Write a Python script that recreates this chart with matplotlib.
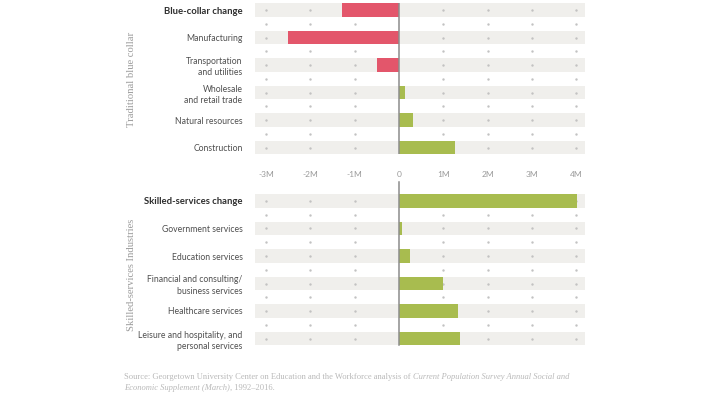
import matplotlib
matplotlib.use("Agg")
import matplotlib.pyplot as plt
import numpy as np

# values in millions of jobs, change 1991-2016
blue_labels = ["Blue-collar change", "Manufacturing", "Transportation\nand utilities",
               "Wholesale\nand retail trade", "Natural resources", "Construction"]
blue_values = [-1.28, -2.50, -0.50, 0.14, 0.31, 1.26]

skilled_labels = ["Skilled-services change", "Government services", "Education services",
                  "Financial and consulting/\nbusiness services", "Healthcare services",
                  "Leisure and hospitality, and\npersonal services"]
skilled_values = [4.03, 0.07, 0.26, 0.99, 1.34, 1.38]

tick_values = [-3, -2, -1, 0, 1, 2, 3, 4]
tick_labels = ["-3M", "-2M", "-1M", "0", "1M", "2M", "3M", "4M"]

RED = "#e3566b"
GREEN = "#a8bc4f"
BAND = "#f0efec"
DOT = "#c2c2c2"
ZERO = "#8c8c8c"

W, H = 706, 397
fig = plt.figure(figsize=(W / 100, H / 100), dpi=100)

XMIN, XMAX = -3.25, 4.2
ROW = 27.5  # pixel spacing of rows


def px_axes(left, right, top, bottom):
    return fig.add_axes([left / W, 1 - bottom / H, (right - left) / W, (bottom - top) / H])


def panel(ax, labels, values):
    n = len(values)
    ys = np.arange(n)
    ax.set_xlim(XMIN, XMAX)
    ax.set_ylim(n - 0.75, -0.25)
    for s in ax.spines.values():
        s.set_visible(False)
    # grey bands behind each row
    ax.barh(ys, [XMAX - XMIN] * n, left=XMIN, height=0.48, color=BAND, zorder=0)
    # dot grid on the rows and between them
    gx = [t for t in tick_values if t != 0]
    dy = np.concatenate([ys, ys[:-1] + 0.5])
    gxx, gyy = np.meshgrid(gx, dy)
    ax.scatter(gxx.ravel(), gyy.ravel(), s=3, color=DOT, linewidths=0, zorder=1)
    colors = [RED if v < 0 else GREEN for v in values]
    ax.barh(ys, values, height=0.48, color=colors, zorder=2)
    ax.set_yticks(ys)
    ax.set_yticklabels(labels, family="Lato", fontsize=6.2, color="#4f4f4f", linespacing=1.3)
    first = ax.get_yticklabels()[0]
    first.set_fontweight("bold")
    first.set_fontsize(6.8)
    first.set_color("#2e2e2e")
    ax.tick_params(axis="y", length=0, pad=9)
    return ax


ax1 = px_axes(255, 585, 10 - 0.25 * ROW, 10 + 5.25 * ROW)
panel(ax1, blue_labels, blue_values)
ax1.set_xticks(tick_values)
ax1.set_xticklabels(tick_labels, family="Lato", fontsize=6.0, color="#9a9a9a")
ax1.tick_params(axis="x", length=0, pad=12)
ax1.axvline(0, color=ZERO, lw=1.1, zorder=3)

ax2 = px_axes(255, 585, 201 - 0.25 * ROW, 201 + 5.25 * ROW)
panel(ax2, skilled_labels, skilled_values)
ax2.set_xticks([])
ax2.axvline(0, ymin=0, ymax=1 + 12 / (5.5 * ROW), color=ZERO, lw=1.1, zorder=3, clip_on=False)

for label, yc in [("Traditional blue collar", 79), ("Skilled-services Industries", 275)]:
    fig.text(132 / W, 1 - yc / H, label, rotation=90, ha="center", va="center",
             family="Liberation Serif", fontsize=7.7, color="#9c9c9c")

# source note with italic survey name
src_kw = dict(family="Liberation Serif", fontsize=6.15, color="#b9b9b9", va="baseline")
t1 = fig.text(124 / W, 1 - 379 / H,
              "Source: Georgetown University Center on Education and the Workforce analysis of ",
              **src_kw)
fig.canvas.draw()
t2 = fig.text(0, 0, "Current Population Survey Annual Social and", style="italic", **src_kw)
t2.set_position((t1.get_window_extent().x1 / W, 1 - 379 / H))
t3 = fig.text(124 / W, 1 - 389.5 / H, "Economic Supplement (March)", style="italic", **src_kw)
fig.canvas.draw()
t4 = fig.text(t3.get_window_extent().x1 / W, 1 - 389.5 / H, ", 1992\u20132016.", **src_kw)

fig.savefig("out.png", dpi=100)
